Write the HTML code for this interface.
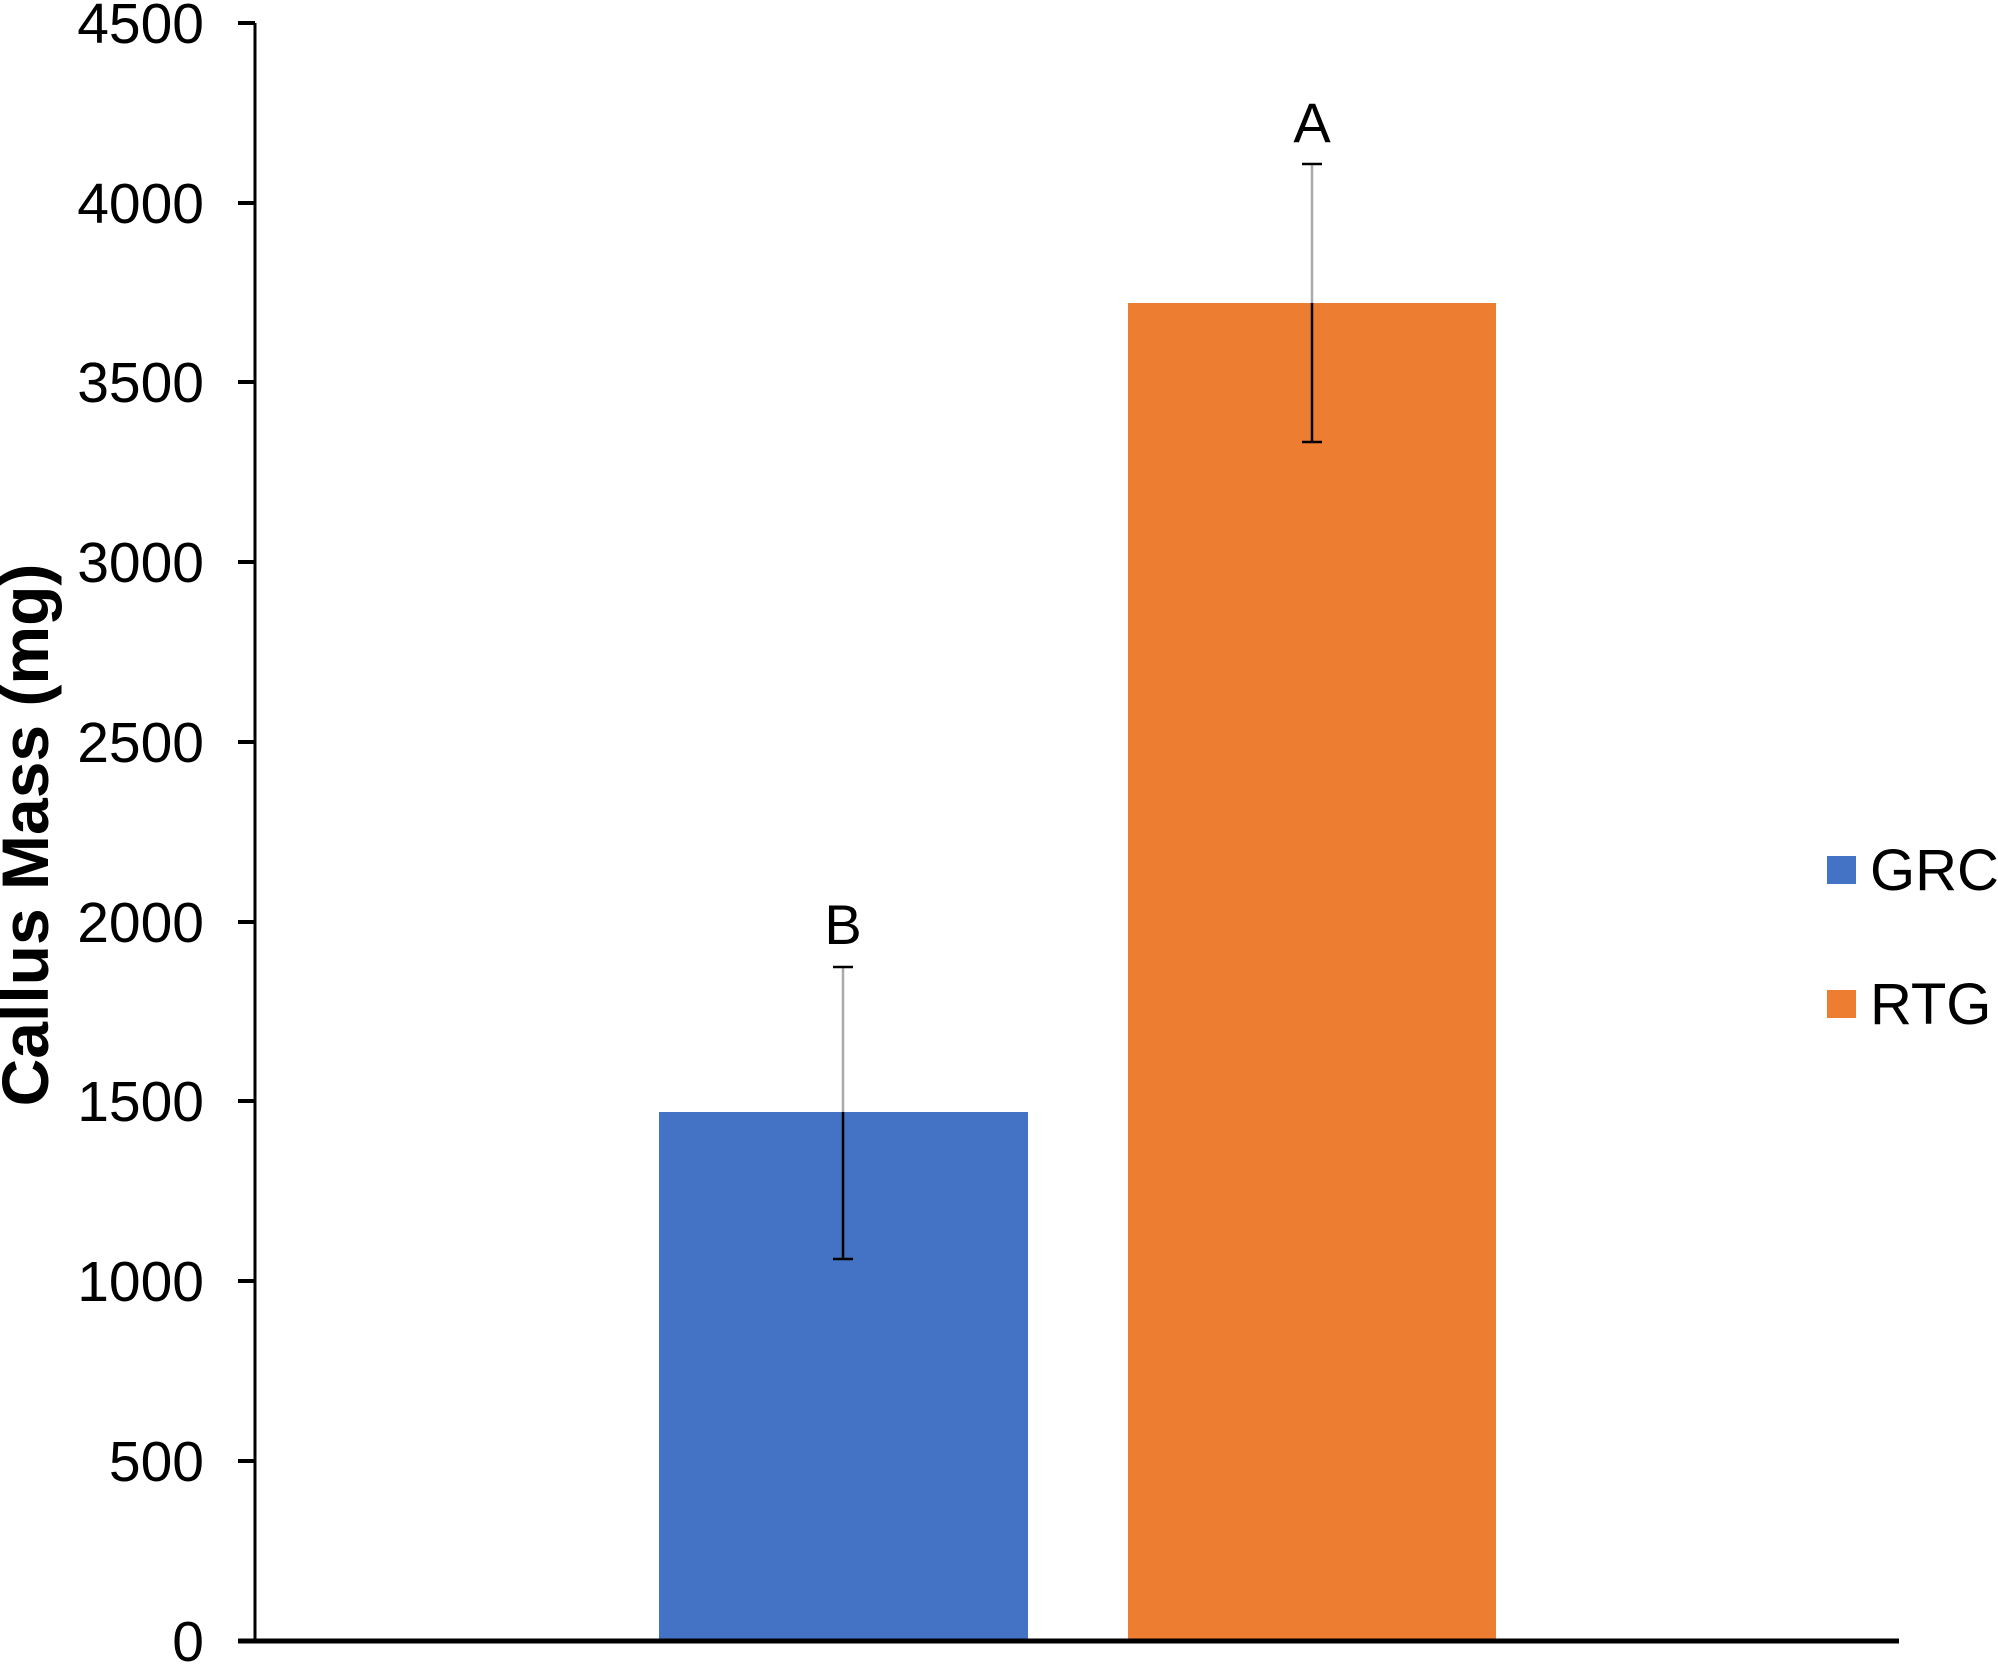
<!DOCTYPE html><html><head><style>body{margin:0;background:#fff}</style></head><body>
<svg width="1998" height="1663" xmlns="http://www.w3.org/2000/svg" font-family="Liberation Sans, sans-serif">
<rect width="1998" height="1663" fill="#fff"/>
<rect x="659" y="1112" width="369" height="528" fill="#4472C4"/>
<rect x="1128" y="303" width="368" height="1337" fill="#ED7D31"/>
<line x1="255" y1="23" x2="255" y2="1640" stroke="#000" stroke-width="3"/>
<line x1="238" y1="1641" x2="1899" y2="1641" stroke="#000" stroke-width="5"/>
<g stroke="#000" stroke-width="4">
<line x1="238" y1="23" x2="255" y2="23"/><line x1="238" y1="203" x2="255" y2="203"/><line x1="238" y1="382" x2="255" y2="382"/><line x1="238" y1="562" x2="255" y2="562"/><line x1="238" y1="742" x2="255" y2="742"/><line x1="238" y1="922" x2="255" y2="922"/><line x1="238" y1="1101" x2="255" y2="1101"/><line x1="238" y1="1281" x2="255" y2="1281"/><line x1="238" y1="1461" x2="255" y2="1461"/>
</g>
<g font-size="57" text-anchor="end" fill="#000">
<text x="204" y="43">4500</text><text x="204" y="223">4000</text><text x="204" y="402">3500</text><text x="204" y="582">3000</text><text x="204" y="762">2500</text><text x="204" y="942">2000</text><text x="204" y="1121">1500</text><text x="204" y="1301">1000</text><text x="204" y="1481">500</text><text x="204" y="1661">0</text>
</g>
<text transform="translate(48,835) rotate(-90)" font-size="66" font-weight="bold" text-anchor="middle">Callus Mass (mg)</text>
<g stroke-width="2.5">
<line x1="843" y1="967" x2="843" y2="1112" stroke="#aaa"/><line x1="843" y1="1112" x2="843" y2="1259" stroke="#000"/>
<line x1="833" y1="967" x2="853" y2="967" stroke="#000"/><line x1="833" y1="1259" x2="853" y2="1259" stroke="#000"/>
<line x1="1312" y1="164" x2="1312" y2="303" stroke="#aaa"/><line x1="1312" y1="303" x2="1312" y2="442" stroke="#000"/>
<line x1="1302" y1="164" x2="1322" y2="164" stroke="#000"/><line x1="1302" y1="442" x2="1322" y2="442" stroke="#000"/>
</g>
<g font-size="56" text-anchor="middle"><text x="1312" y="142">A</text><text x="843" y="944">B</text></g>
<rect x="1827" y="856" width="29" height="28" fill="#4472C4"/>
<rect x="1827" y="990" width="29" height="28" fill="#ED7D31"/>
<g font-size="58"><text x="1870" y="890">GRC</text><text x="1870" y="1024">RTG</text></g>
</svg></body></html>
